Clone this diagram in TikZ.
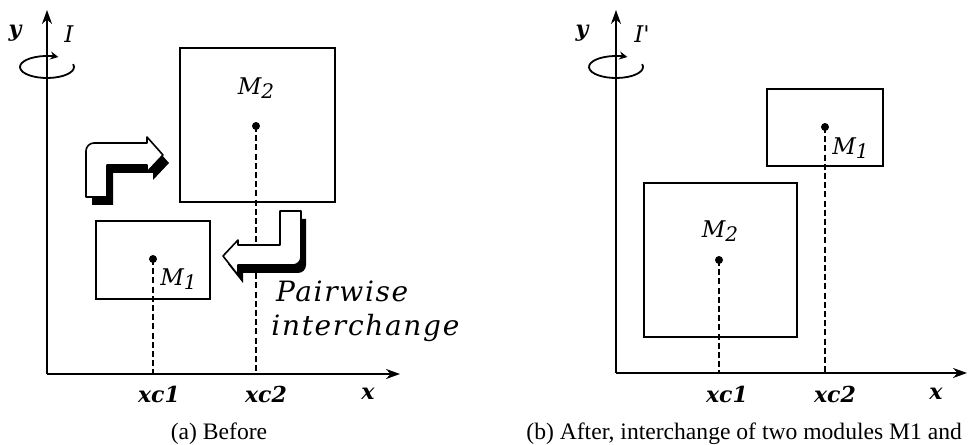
\documentclass[tikz,border=0pt]{standalone}
\usepackage{fontspec}
\setmainfont{Liberation Serif}
\newfontfamily\lblfont{DejaVu Serif}
\usetikzlibrary{arrows.meta}

\newcommand{\modsub}[1]{\raisebox{-0.35ex}{\fontsize{10}{12}\selectfont #1}}

\begin{document}
\begin{tikzpicture}[
    x=0.5pt, y=0.5pt,
    axisline/.style={line width=1pt, -{Stealth[length=7pt,width=5pt]}},
    spin/.style={line width=0.9pt, -{Stealth[length=4pt,width=4pt]}},
    modbox/.style={line width=1pt},
    guide/.style={line width=1pt, dash pattern=on 3pt off 1.6pt},
    lbl/.style={font=\lblfont\itshape\fontsize{11.5}{13}\selectfont, inner sep=1pt},
    axlbl/.style={font=\lblfont\bfseries\itshape\fontsize{11}{13}\selectfont, inner sep=1pt},
    bigtxt/.style={font=\lblfont\itshape\fontsize{14}{17}\selectfont\addfontfeature{LetterSpace=6}, inner sep=0pt, align=left},
    captxt/.style={font=\fontsize{11.8}{14}\selectfont, inner sep=1pt},
    bentarrow/.style={fill=white, draw=black, line width=0.8pt, line join=round}
]
    \useasboundingbox (0,0) rectangle (968,444);

    % (a) before
    \coordinate (Oa) at (47,70);
    \coordinate (Ya) at (47,434);
    \coordinate (Xa) at (400,70);
    \coordinate (Ca) at (153,185);
    \coordinate (Da) at (256,318);
    \coordinate (Fa1) at (153,70);
    \coordinate (Fa2) at (256,70);

    \draw[axisline] (Oa) -- (Ya);
    \draw[axisline] (Oa) -- (Xa);
    \draw[spin] (47,377) ++(15:27 and 11) arc[start angle=15, end angle=-295, x radius=27, y radius=11];

    \draw[modbox] (180,396) rectangle (335,242);
    \draw[modbox] (96,223) rectangle (210,145);

    \draw[guide] (Ca) -- (Fa1);
    \draw[guide] (Da) -- (Fa2);
    \fill (Ca) circle (4);
    \fill (Da) circle (4);

    \node[axlbl] (ya) at (15,411) {y};
    \node[lbl] (Ia) at (69,410) {I};
    \node[lbl] (m2a) at (256,356) {M\modsub{2}};
    \node[lbl, anchor=west] (m1a) at (158,165) {M\modsub{1}};
    \node[axlbl] (xc1a) at (159,50) {xc1};
    \node[axlbl] (xc2a) at (266,50) {xc2};
    \node[axlbl] (xa) at (368,50) {x};
    \node[bigtxt, anchor=north west] (pw) at (271,164) {\,Pairwise\\interchange};
    \node[captxt] (capa) at (219,10) {(a) Before};

    % bent arrows with shadow
    \fill[shift={(6,-8)}] (86,247) -- (86,293) arc[start angle=180, end angle=90, radius=8]
        -- (147,301) -- (147,307) -- (163,289) -- (147,272) -- (147,279) -- (107,279) -- (107,247) -- cycle;
    \draw[bentarrow] (86,247) -- (86,293) arc[start angle=180, end angle=90, radius=8]
        -- (147,301) -- (147,307) -- (163,289) -- (147,272) -- (147,279) -- (107,279) -- (107,247) -- cycle;

    \fill[shift={(5,-8)}] (280,233) -- (301,233) -- (301,187) arc[start angle=0, end angle=-90, radius=8]
        -- (238,179) -- (238,169) -- (223,188) -- (238,204) -- (238,199) -- (280,199) -- cycle;
    \draw[bentarrow] (280,233) -- (301,233) -- (301,187) arc[start angle=0, end angle=-90, radius=8]
        -- (238,179) -- (238,169) -- (223,188) -- (238,204) -- (238,199) -- (280,199) -- cycle;

    % (b) after
    \coordinate (Ob) at (616,71);
    \coordinate (Yb) at (616,434);
    \coordinate (Xb) at (967,71);
    \coordinate (Cb) at (825,317);
    \coordinate (Db) at (719,184);
    \coordinate (Fb1) at (825,71);
    \coordinate (Fb2) at (719,71);

    \draw[axisline] (Ob) -- (Yb);
    \draw[axisline] (Ob) -- (Xb);
    \draw[spin] (616,377) ++(15:27 and 11) arc[start angle=15, end angle=-295, x radius=27, y radius=11];

    \draw[modbox] (767,355) rectangle (883,278);
    \draw[modbox] (644,261) rectangle (797,107);

    \draw[guide] (Cb) -- (Fb1);
    \draw[guide] (Db) -- (Fb2);
    \fill (Cb) circle (4);
    \fill (Db) circle (4);

    \node[axlbl] (yb) at (582,411) {y};
    \node[lbl] (Ib) at (642,410) {I'};
    \node[lbl, anchor=west] (m1b) at (830,296) {M\modsub{1}};
    \node[lbl] (m2b) at (720,213) {M\modsub{2}};
    \node[axlbl] (xc1b) at (727,50) {xc1};
    \node[axlbl] (xc2b) at (835,50) {xc2};
    \node[axlbl] (xb) at (936,50) {x};
    \node[captxt, anchor=west] (capb) at (524,10) {(b) After, interchange of two modules M1 and};

\end{tikzpicture}
\end{document}
